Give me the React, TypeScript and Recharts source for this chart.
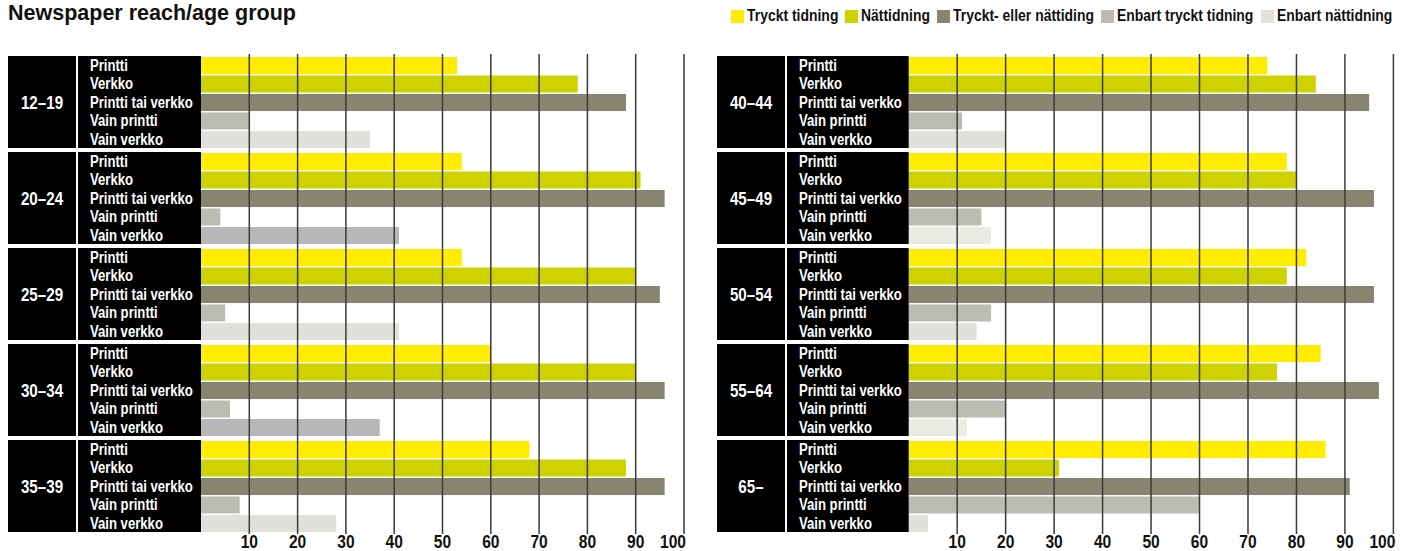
import { Bar, BarChart, Cell, Legend, ReferenceLine, XAxis, YAxis } from 'recharts'

const ageGroups = ['12–19', '20–24', '25–29', '30–34', '35–39', '40–44', '45–49', '50–54', '55–64', '65–']
const rowLabels = ['Printti', 'Verkko', 'Printti tai verkko', 'Vain printti', 'Vain verkko']
const seriesNames = ['Tryckt tidning', 'Nättidning', 'Tryckt- eller nättiding', 'Enbart tryckt tidning', 'Enbart nättidning']

const printti = [53, 54, 54, 60, 68, 74, 78, 82, 85, 86]
const verkko = [78, 91, 90, 90, 88, 84, 80, 78, 76, 31]
const printtiTaiVerkko = [88, 96, 95, 96, 96, 95, 96, 96, 97, 91]
const vainPrintti = [10, 4, 5, 6, 8, 11, 15, 17, 20, 60]
const vainVerkko = [35, 41, 41, 37, 28, 20, 17, 14, 12, 4]

const xTicks = [10, 20, 30, 40, 50, 60, 70, 80, 90, 100]

// the source tints a few of the "Vain verkko" bars differently
const vainVerkkoFill = ['#e1e1dc', '#b6b7b9', '#e1e1dc', '#b6b7b9', '#e1e1dc', '#e1e1dc', '#ebebe2', '#e1e1dc', '#ebebe2', '#e1e1dc']

const COLORS = ['#ffed00', '#cdd200', '#878570', '#bcbcb3', '#e1e1dc']
const FONT = "'Liberation Sans', Arial, sans-serif"
const NARROW = 0.82 // squeeze to mimic a condensed face

const rows = ageGroups.map((age, i) => ({
  age,
  printti: printti[i],
  verkko: verkko[i],
  printtiTaiVerkko: printtiTaiVerkko[i],
  vainPrintti: vainPrintti[i],
  vainVerkko: vainVerkko[i],
  vvFill: vainVerkkoFill[i],
}))

function NarrowText({ x, y, size, fill, anchor = 'start', children }: any) {
  return (
    <text
      transform={`translate(${x} ${y}) scale(${NARROW} 1)`}
      textAnchor={anchor}
      fill={fill}
      fontFamily={FONT}
      fontWeight={700}
      fontSize={size}
    >
      {children}
    </text>
  )
}

function GroupTick(props: any) {
  const { x, y, payload, yWidth } = props
  const left = x - yWidth
  return (
    <g>
      <rect x={left} y={y - 46} width={68} height={92} fill="#000" />
      <rect x={left + 70} y={y - 46} width={yWidth - 70} height={92} fill="#000" />
      <NarrowText x={left + 34} y={y + 6.5} size={18.5} fill="#fff" anchor="middle">
        {payload.value}
      </NarrowText>
      {rowLabels.map((l, i) => (
        <NarrowText key={l} x={left + 82} y={y + (i - 2) * 18.4 + 5.8} size={16} fill="#fff">
          {l}
        </NarrowText>
      ))}
    </g>
  )
}

function ValueTick(props: any) {
  const { x, y, payload } = props
  const last = payload.value === 100
  return (
    <NarrowText x={last ? x + 2 : x} y={y + 14} size={19} fill="#111" anchor={last ? 'end' : 'middle'}>
      {payload.value}
    </NarrowText>
  )
}

let ctx: CanvasRenderingContext2D | null = null
function textWidth(s: string, size: number) {
  if (!ctx) ctx = document.createElement('canvas').getContext('2d')
  if (!ctx) return s.length * size * 0.5
  ctx.font = `700 ${size}px 'Liberation Sans', Arial, sans-serif`
  return ctx.measureText(s).width
}

function LegendContent(props: any) {
  const size = 17
  const items = [...(props.payload || [])].sort((a: any, b: any) => seriesNames.indexOf(a.value) - seriesNames.indexOf(b.value))
  return (
    <div style={{ display: 'flex', justifyContent: 'flex-end', alignItems: 'center', height: 20, paddingRight: 16, fontFamily: FONT, fontWeight: 700, fontSize: size, color: '#111', whiteSpace: 'nowrap' }}>
      {items.map((p: any) => {
        const w = textWidth(p.value, size) * NARROW
        return (
          <div key={p.value} style={{ display: 'flex', alignItems: 'center', marginLeft: 7, flexShrink: 0 }}>
            <span style={{ display: 'inline-block', width: 13, height: 13, background: p.color, marginRight: 3 }} />
            <span style={{ display: 'inline-block', width: w, overflow: 'visible' }}>
              <span style={{ display: 'inline-block', transform: `scaleX(${NARROW})`, transformOrigin: 'left center' }}>{p.value}</span>
            </span>
          </div>
        )
      })}
    </div>
  )
}

function Panel({ data, width, margin, yWidth, legend }: any) {
  return (
    <BarChart width={width} height={551} data={data} layout="vertical" margin={margin} barCategoryGap={2} barGap={1.5}>
      {legend && <Legend verticalAlign="top" content={<LegendContent />} width={width} wrapperStyle={{ left: 0, top: 6 }} />}
      <XAxis type="number" domain={[0, 100]} ticks={xTicks} axisLine={false} tickLine={false} tickSize={0} tickMargin={0} height={17} tick={<ValueTick />} />
      <YAxis type="category" dataKey="age" width={yWidth} axisLine={false} tickLine={false} tickSize={0} tickMargin={0} interval={0} tick={<GroupTick yWidth={yWidth} />} />
      <Bar dataKey="printti" name={seriesNames[0]} fill={COLORS[0]} barSize={17} isAnimationActive={false} />
      <Bar dataKey="verkko" name={seriesNames[1]} fill={COLORS[1]} barSize={17} isAnimationActive={false} />
      <Bar dataKey="printtiTaiVerkko" name={seriesNames[2]} fill={COLORS[2]} barSize={17} isAnimationActive={false} />
      <Bar dataKey="vainPrintti" name={seriesNames[3]} fill={COLORS[3]} barSize={17} isAnimationActive={false} />
      <Bar dataKey="vainVerkko" name={seriesNames[4]} fill={COLORS[4]} barSize={17} isAnimationActive={false}>
        {data.map((d: any) => (
          <Cell key={d.age} fill={d.vvFill} />
        ))}
      </Bar>
      {xTicks.map(t => (
        <ReferenceLine key={t} x={t} stroke="#3a3a3a" strokeWidth={1.5} />
      ))}
    </BarChart>
  )
}

export default function App() {
  return (
    <div style={{ position: 'absolute', left: 0, top: 0, width: 1408, height: 551, background: '#fff' }}>
      <div style={{ position: 'absolute', left: 8, top: 1, fontFamily: FONT, fontWeight: 700, fontSize: 21.5, color: '#111', letterSpacing: 0 }}>
        Newspaper reach/age group
      </div>
      <div style={{ position: 'absolute', left: 0, top: 0 }}>
        <Panel data={rows.slice(0, 5)} width={700} margin={{ top: 54, right: 16, bottom: 0, left: 8 }} yWidth={193} />
      </div>
      <div style={{ position: 'absolute', left: 700, top: 0 }}>
        <Panel data={rows.slice(5)} width={708} margin={{ top: 34, right: 14.6, bottom: 0, left: 17 }} yWidth={191.7} legend />
      </div>
    </div>
  )
}
